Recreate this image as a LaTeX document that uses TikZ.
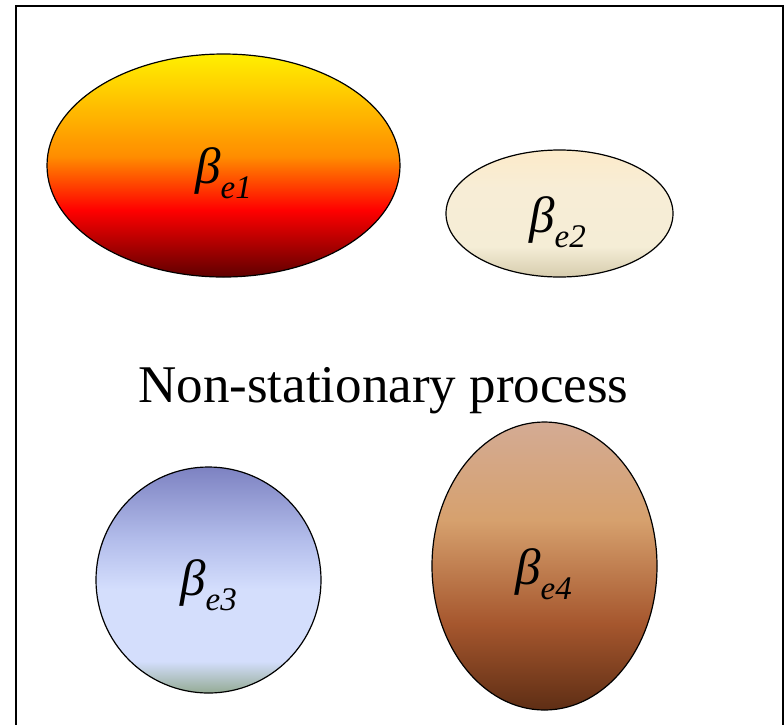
\documentclass[tikz,border=0pt]{standalone}
\usepackage{fontspec}
\setmainfont{Liberation Serif}
\usetikzlibrary{shapes.geometric}
\pgfdeclareverticalshading{shadeone}{100bp}{rgb(0bp)=(0.37,0,0); rgb(25bp)=(0.37,0,0); rgb(40bp)=(1,0,0); rgb(52bp)=(1,0.55,0); rgb(75bp)=(1,0.94,0); rgb(100bp)=(1,0.94,0)}
\pgfdeclareverticalshading{shadetwo}{100bp}{rgb(0bp)=(0.84,0.80,0.68); rgb(25bp)=(0.84,0.80,0.68); rgb(37bp)=(0.96,0.93,0.84); rgb(60bp)=(0.97,0.93,0.84); rgb(75bp)=(0.99,0.92,0.79); rgb(100bp)=(0.99,0.92,0.79)}
\pgfdeclareverticalshading{shadethree}{100bp}{rgb(0bp)=(0.58,0.67,0.58); rgb(25bp)=(0.58,0.67,0.58); rgb(32bp)=(0.83,0.87,0.99); rgb(48bp)=(0.83,0.87,0.99); rgb(59bp)=(0.70,0.74,0.92); rgb(75bp)=(0.49,0.51,0.76); rgb(100bp)=(0.49,0.51,0.76)}
\pgfdeclareverticalshading{shadefour}{100bp}{rgb(0bp)=(0.37,0.18,0.08); rgb(25bp)=(0.37,0.18,0.08); rgb(40bp)=(0.65,0.34,0.18); rgb(58bp)=(0.84,0.63,0.43); rgb(75bp)=(0.83,0.67,0.58); rgb(100bp)=(0.83,0.67,0.58)}
\tikzset{
  blob/.style={ellipse, draw=black, line width=1.2pt, inner sep=0pt},
  lab/.style={inner sep=0pt, font=\fontsize{51}{51}\selectfont\itshape},
  frameline/.style={line width=1.6pt},
}
\newcommand{\betalab}[1]{β\raisebox{-15pt}{\fontsize{33}{33}\selectfont #1}}
\begin{document}
\begin{tikzpicture}[x=1pt,y=-1pt]
\useasboundingbox (0,0) rectangle (784,724);
\coordinate (fa) at (16,730);
\coordinate (fb) at (16,6);
\coordinate (fc) at (783,6);
\coordinate (fd) at (783,730);
\begin{scope}
\clip (0,0) rectangle (784,724);
\draw[frameline] (fa) -- (fb) -- (fc) -- (fd);
\end{scope}
\node[blob, shading=shadeone, minimum width=353pt, minimum height=223pt] (e1) at (223.5,165.5) {};
\node[blob, shading=shadetwo, minimum width=227pt, minimum height=127pt] (e2) at (559.5,213.5) {};
\node[blob, shading=shadethree, minimum width=225pt, minimum height=226pt] (e3) at (208.5,580) {};
\node[blob, shading=shadefour, minimum width=225pt, minimum height=288pt] (e4) at (544.5,566) {};
\node[lab] (l1) at ([yshift=-8pt]e1.center) {\betalab{e1}};
\node[lab] (l2) at ([yshift=-9pt,xshift=-2pt]e2.center) {\betalab{e2}};
\node[lab] (l3) at ([yshift=-5pt]e3.center) {\betalab{e3}};
\node[lab] (l4) at ([yshift=-8pt,xshift=-1pt]e4.center) {\betalab{e4}};
\node[anchor=base, inner sep=0pt, font=\fontsize{53}{53}\selectfont] (title) at (383.5,402) {Non-stationary process};
\end{tikzpicture}
\end{document}
